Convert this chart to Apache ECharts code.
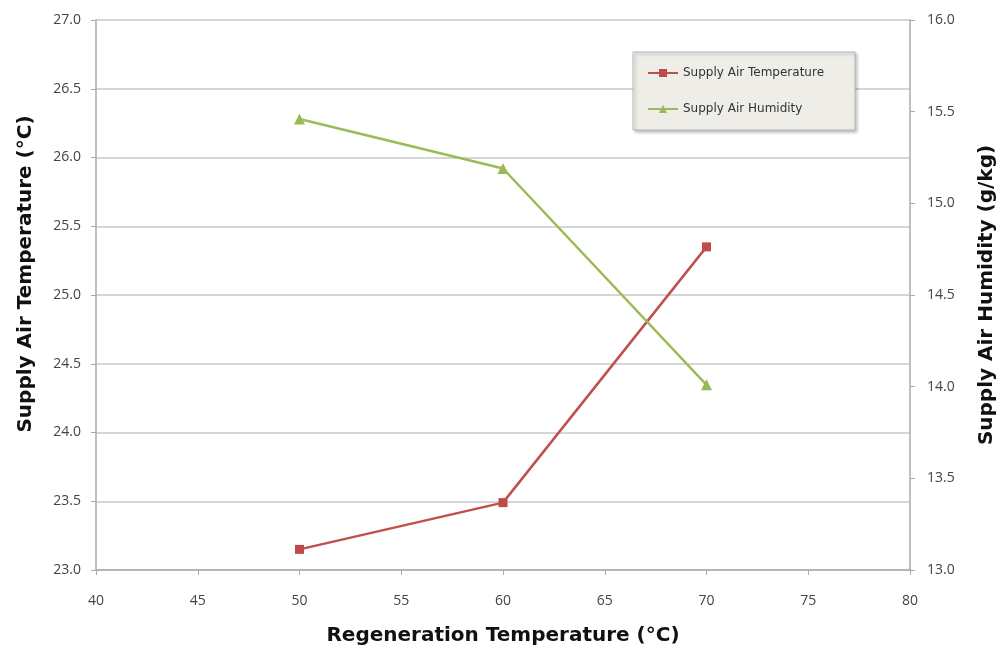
<!DOCTYPE html>
<html>
<head>
<meta charset="utf-8">
<script src="https://cdn.jsdelivr.net/npm/echarts@6/dist/echarts.min.js"></script>
<style>html,body{margin:0;padding:0;background:#fff;}#c{width:1006px;height:655px;}</style>
</head>
<body>
<div id="c"></div>
<script>
const regenTemp = [50, 60, 70];
const supplyTemp = [23.15, 23.49, 25.35];
const supplyHum = [15.46, 15.19, 14.01];
const seriesNames = ['Supply Air Temperature', 'Supply Air Humidity'];

const chart = echarts.init(document.getElementById('c'));
const labelStyle = {color: '#444', fontFamily: 'Open Sans', fontSize: 14};
const nameStyle = {color: '#111', fontFamily: 'DejaVu Sans', fontWeight: 'bold', fontSize: 20};
chart.setOption({
  animation: false,
  backgroundColor: '#fff',
  grid: {left: 96, right: 96, top: 20, bottom: 85},
  legend: {
    orient: 'vertical', left: 633, top: 52,
    backgroundColor: '#eeede8', borderColor: '#b8b8b8', borderWidth: 1,
    shadowColor: 'rgba(0,0,0,0.25)', shadowBlur: 3, shadowOffsetX: 2, shadowOffsetY: 2,
    padding: [15, 31, 15, 14], itemGap: 24, itemWidth: 30, itemHeight: 10,
    textStyle: {fontFamily: 'DejaVu Sans', fontSize: 12, color: '#333'},
    data: seriesNames
  },
  xAxis: {
    type: 'value', min: 40, max: 80, interval: 5,
    name: 'Regeneration Temperature (°C)', nameLocation: 'middle', nameGap: 56,
    nameTextStyle: nameStyle,
    axisLine: {show: true, lineStyle: {color: '#aaa', width: 1.5}},
    axisTick: {show: true, length: 5, lineStyle: {color: '#aaa'}},
    axisLabel: Object.assign({margin: 24}, labelStyle),
    splitLine: {show: false}
  },
  yAxis: [{
    type: 'value', min: 23, max: 27, interval: 0.5, position: 'left',
    name: 'Supply Air Temperature (°C)', nameLocation: 'middle', nameGap: 60,
    nameTextStyle: Object.assign({padding: [0, 0, 0, 42]}, nameStyle),
    axisLine: {show: true, lineStyle: {color: '#aaa', width: 1.5}},
    axisTick: {show: true, length: 5, lineStyle: {color: '#aaa'}},
    axisLabel: Object.assign({margin: 15, formatter: v => v.toFixed(1)}, labelStyle),
    splitLine: {show: true, lineStyle: {color: '#c8c8c8', width: 1.5}}
  }, {
    type: 'value', min: 13, max: 16, interval: 0.5, position: 'right',
    name: 'Supply Air Humidity (g/kg)', nameLocation: 'middle', nameGap: 67,
    nameTextStyle: nameStyle,
    axisLine: {show: true, lineStyle: {color: '#aaa', width: 1.5}},
    axisTick: {show: true, length: 5, lineStyle: {color: '#aaa'}},
    axisLabel: Object.assign({margin: 17, formatter: v => v.toFixed(1)}, labelStyle),
    splitLine: {show: false}
  }],
  series: [{
    name: seriesNames[0], type: 'line', yAxisIndex: 0,
    data: regenTemp.map((x, i) => [x, supplyTemp[i]]),
    symbol: 'rect', symbolSize: 9,
    lineStyle: {color: '#c0504d', width: 2.5},
    itemStyle: {color: '#be4b48'}
  }, {
    name: seriesNames[1], type: 'line', yAxisIndex: 1,
    data: regenTemp.map((x, i) => [x, supplyHum[i]]),
    symbol: 'triangle', symbolSize: 11,
    lineStyle: {color: '#9bbb59', width: 2.5},
    itemStyle: {color: '#98b954'}
  }]
});
</script>
</body>
</html>
